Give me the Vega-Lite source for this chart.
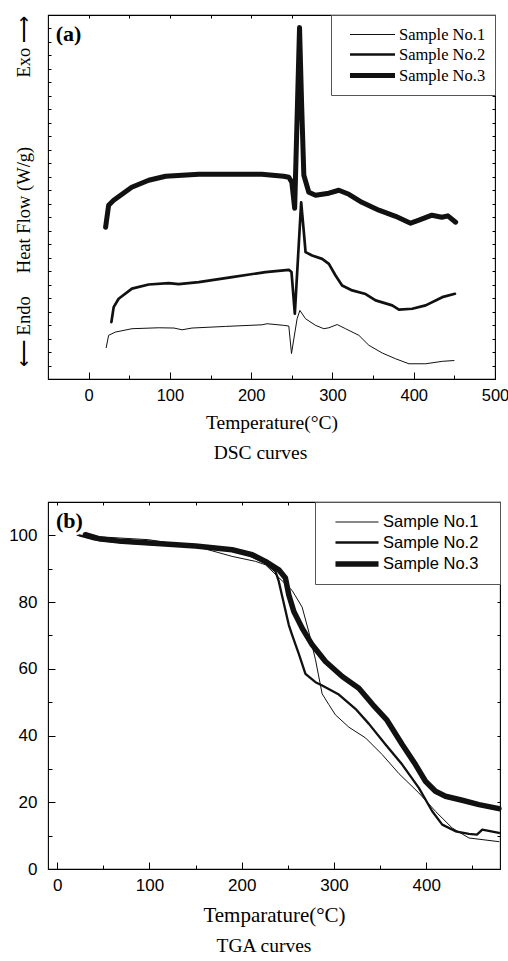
{
  "$schema": "https://vega.github.io/schema/vega-lite/v6.json",
  "padding": {"left": 8, "top": 13, "right": 0, "bottom": 0},
  "autosize": {"type": "pad"},
  "background": "white",
  "spacing": 36,
  "config": {
    "view": {"stroke": "#000", "strokeWidth": 1.1},
    "axis": {"domain": false, "grid": false, "tickColor": "#000", "tickWidth": 1, "labelColor": "#000", "titleColor": "#000", "labelFont": "Liberation Sans", "titleFont": "Liberation Serif", "titleFontWeight": "normal", "labelFlush": false, "labelOverlap": false},
    "title": {"font": "Liberation Serif", "fontWeight": "normal", "color": "#000"}
  },
  "resolve": {"scale": {"strokeWidth": "independent"}, "legend": {"strokeWidth": "independent"}},
  "datasets": {
    "dsc": [
      {"sample": "Sample No.1", "T": 21.6, "v": 2.33},
      {"sample": "Sample No.1", "T": 24.6, "v": 3.24},
      {"sample": "Sample No.1", "T": 32.9, "v": 3.48},
      {"sample": "Sample No.1", "T": 53.3, "v": 3.73},
      {"sample": "Sample No.1", "T": 86.2, "v": 3.8},
      {"sample": "Sample No.1", "T": 105, "v": 3.78},
      {"sample": "Sample No.1", "T": 114.9, "v": 3.65},
      {"sample": "Sample No.1", "T": 127.2, "v": 3.78},
      {"sample": "Sample No.1", "T": 168.3, "v": 3.9},
      {"sample": "Sample No.1", "T": 213.4, "v": 4.02},
      {"sample": "Sample No.1", "T": 219.6, "v": 4.1},
      {"sample": "Sample No.1", "T": 240, "v": 3.98},
      {"sample": "Sample No.1", "T": 246.3, "v": 3.93},
      {"sample": "Sample No.1", "T": 249.6, "v": 1.89},
      {"sample": "Sample No.1", "T": 256.5, "v": 4.47},
      {"sample": "Sample No.1", "T": 259.9, "v": 5.09},
      {"sample": "Sample No.1", "T": 266.9, "v": 4.47},
      {"sample": "Sample No.1", "T": 279.2, "v": 3.98},
      {"sample": "Sample No.1", "T": 289.4, "v": 3.73},
      {"sample": "Sample No.1", "T": 295.6, "v": 3.8},
      {"sample": "Sample No.1", "T": 305.8, "v": 4.04},
      {"sample": "Sample No.1", "T": 316.1, "v": 3.73},
      {"sample": "Sample No.1", "T": 332.5, "v": 3.24},
      {"sample": "Sample No.1", "T": 344.8, "v": 2.5},
      {"sample": "Sample No.1", "T": 361.2, "v": 1.93},
      {"sample": "Sample No.1", "T": 377.7, "v": 1.5},
      {"sample": "Sample No.1", "T": 394.1, "v": 1.13},
      {"sample": "Sample No.1", "T": 414.7, "v": 1.13},
      {"sample": "Sample No.1", "T": 435.1, "v": 1.31},
      {"sample": "Sample No.1", "T": 449.5, "v": 1.37},
      {"sample": "Sample No.2", "T": 28.0, "v": 4.22},
      {"sample": "Sample No.2", "T": 30.8, "v": 5.33},
      {"sample": "Sample No.2", "T": 36.9, "v": 5.95},
      {"sample": "Sample No.2", "T": 53.3, "v": 6.7},
      {"sample": "Sample No.2", "T": 73.9, "v": 7.01},
      {"sample": "Sample No.2", "T": 98.5, "v": 7.11},
      {"sample": "Sample No.2", "T": 110.8, "v": 7.04},
      {"sample": "Sample No.2", "T": 135.5, "v": 7.19},
      {"sample": "Sample No.2", "T": 176.5, "v": 7.56},
      {"sample": "Sample No.2", "T": 217.6, "v": 7.93},
      {"sample": "Sample No.2", "T": 246.3, "v": 8.1},
      {"sample": "Sample No.2", "T": 249.6, "v": 7.93},
      {"sample": "Sample No.2", "T": 253.7, "v": 4.84},
      {"sample": "Sample No.2", "T": 261.5, "v": 13.11},
      {"sample": "Sample No.2", "T": 264.8, "v": 10.9},
      {"sample": "Sample No.2", "T": 266.9, "v": 9.41},
      {"sample": "Sample No.2", "T": 275.0, "v": 9.16},
      {"sample": "Sample No.2", "T": 287.3, "v": 8.91},
      {"sample": "Sample No.2", "T": 295.6, "v": 8.54},
      {"sample": "Sample No.2", "T": 303.8, "v": 7.68},
      {"sample": "Sample No.2", "T": 311.9, "v": 6.94},
      {"sample": "Sample No.2", "T": 324.3, "v": 6.57},
      {"sample": "Sample No.2", "T": 340.8, "v": 6.3},
      {"sample": "Sample No.2", "T": 353.1, "v": 5.83},
      {"sample": "Sample No.2", "T": 373.5, "v": 5.46},
      {"sample": "Sample No.2", "T": 381.8, "v": 5.15},
      {"sample": "Sample No.2", "T": 398.2, "v": 5.21},
      {"sample": "Sample No.2", "T": 414.7, "v": 5.46},
      {"sample": "Sample No.2", "T": 435.1, "v": 6.07},
      {"sample": "Sample No.2", "T": 450.7, "v": 6.32},
      {"sample": "Sample No.3", "T": 20.9, "v": 11.26},
      {"sample": "Sample No.3", "T": 24.6, "v": 12.89},
      {"sample": "Sample No.3", "T": 30.8, "v": 13.26},
      {"sample": "Sample No.3", "T": 53, "v": 14.22},
      {"sample": "Sample No.3", "T": 73.9, "v": 14.74},
      {"sample": "Sample No.3", "T": 94.8, "v": 15.04},
      {"sample": "Sample No.3", "T": 135.5, "v": 15.19},
      {"sample": "Sample No.3", "T": 200.7, "v": 15.19},
      {"sample": "Sample No.3", "T": 213, "v": 15.19},
      {"sample": "Sample No.3", "T": 240, "v": 15.04},
      {"sample": "Sample No.3", "T": 246.3, "v": 14.96},
      {"sample": "Sample No.3", "T": 250, "v": 14.59},
      {"sample": "Sample No.3", "T": 253.5, "v": 12.67},
      {"sample": "Sample No.3", "T": 259.5, "v": 26.07},
      {"sample": "Sample No.3", "T": 262, "v": 20.5},
      {"sample": "Sample No.3", "T": 264.8, "v": 15.11},
      {"sample": "Sample No.3", "T": 270.9, "v": 13.85},
      {"sample": "Sample No.3", "T": 279.2, "v": 13.63},
      {"sample": "Sample No.3", "T": 295.6, "v": 13.78},
      {"sample": "Sample No.3", "T": 307.9, "v": 14.0},
      {"sample": "Sample No.3", "T": 320.2, "v": 13.7},
      {"sample": "Sample No.3", "T": 336.2, "v": 13.11},
      {"sample": "Sample No.3", "T": 357.1, "v": 12.52},
      {"sample": "Sample No.3", "T": 377.7, "v": 12.07},
      {"sample": "Sample No.3", "T": 396.2, "v": 11.56},
      {"sample": "Sample No.3", "T": 406.4, "v": 11.78},
      {"sample": "Sample No.3", "T": 422.4, "v": 12.15},
      {"sample": "Sample No.3", "T": 434.7, "v": 12.0},
      {"sample": "Sample No.3", "T": 442, "v": 12.1},
      {"sample": "Sample No.3", "T": 451.6, "v": 11.63}
    ],
    "tga": [
      {"sample": "Sample No.1", "T": 21.5, "W": 100},
      {"sample": "Sample No.1", "T": 50, "W": 99.5},
      {"sample": "Sample No.1", "T": 99, "W": 98.7},
      {"sample": "Sample No.1", "T": 157, "W": 96.2},
      {"sample": "Sample No.1", "T": 189.6, "W": 93.7},
      {"sample": "Sample No.1", "T": 215, "W": 92.2},
      {"sample": "Sample No.1", "T": 225.7, "W": 91.2},
      {"sample": "Sample No.1", "T": 243.8, "W": 86.4},
      {"sample": "Sample No.1", "T": 254.6, "W": 83.5},
      {"sample": "Sample No.1", "T": 265.5, "W": 78.5},
      {"sample": "Sample No.1", "T": 272.8, "W": 71},
      {"sample": "Sample No.1", "T": 280, "W": 62.7},
      {"sample": "Sample No.1", "T": 287.2, "W": 52.5},
      {"sample": "Sample No.1", "T": 294.4, "W": 49.3},
      {"sample": "Sample No.1", "T": 301.6, "W": 46.2},
      {"sample": "Sample No.1", "T": 316.2, "W": 42.5},
      {"sample": "Sample No.1", "T": 334.2, "W": 39.3},
      {"sample": "Sample No.1", "T": 352.3, "W": 34.3},
      {"sample": "Sample No.1", "T": 370.4, "W": 28.6},
      {"sample": "Sample No.1", "T": 392, "W": 22.8},
      {"sample": "Sample No.1", "T": 410, "W": 17.3},
      {"sample": "Sample No.1", "T": 428.1, "W": 12.3},
      {"sample": "Sample No.1", "T": 446.3, "W": 9.3},
      {"sample": "Sample No.1", "T": 478.8, "W": 8.2},
      {"sample": "Sample No.2", "T": 24, "W": 100},
      {"sample": "Sample No.2", "T": 40, "W": 98.8},
      {"sample": "Sample No.2", "T": 70, "W": 97.9},
      {"sample": "Sample No.2", "T": 100, "W": 97.4},
      {"sample": "Sample No.2", "T": 150, "W": 96.7},
      {"sample": "Sample No.2", "T": 189.6, "W": 96.0},
      {"sample": "Sample No.2", "T": 210, "W": 93.8},
      {"sample": "Sample No.2", "T": 225.7, "W": 91.7},
      {"sample": "Sample No.2", "T": 236.6, "W": 89.2},
      {"sample": "Sample No.2", "T": 240.2, "W": 86.2},
      {"sample": "Sample No.2", "T": 243.8, "W": 81.8},
      {"sample": "Sample No.2", "T": 251, "W": 73.2},
      {"sample": "Sample No.2", "T": 254.6, "W": 70.2},
      {"sample": "Sample No.2", "T": 261.9, "W": 64.5},
      {"sample": "Sample No.2", "T": 269.1, "W": 58.5},
      {"sample": "Sample No.2", "T": 280, "W": 56},
      {"sample": "Sample No.2", "T": 287.2, "W": 55},
      {"sample": "Sample No.2", "T": 305.3, "W": 52.3},
      {"sample": "Sample No.2", "T": 323.3, "W": 48},
      {"sample": "Sample No.2", "T": 337.9, "W": 43.5},
      {"sample": "Sample No.2", "T": 355.9, "W": 37.3},
      {"sample": "Sample No.2", "T": 374, "W": 31.3},
      {"sample": "Sample No.2", "T": 392, "W": 24.3},
      {"sample": "Sample No.2", "T": 406.5, "W": 17.3},
      {"sample": "Sample No.2", "T": 417.4, "W": 13.3},
      {"sample": "Sample No.2", "T": 431.8, "W": 11.3},
      {"sample": "Sample No.2", "T": 446.3, "W": 10.5},
      {"sample": "Sample No.2", "T": 455, "W": 10.3},
      {"sample": "Sample No.2", "T": 460.8, "W": 11.8},
      {"sample": "Sample No.2", "T": 478.8, "W": 10.8},
      {"sample": "Sample No.3", "T": 30.5, "W": 100.2},
      {"sample": "Sample No.3", "T": 45, "W": 99},
      {"sample": "Sample No.3", "T": 70, "W": 98.2},
      {"sample": "Sample No.3", "T": 100, "W": 97.7},
      {"sample": "Sample No.3", "T": 150, "W": 96.8},
      {"sample": "Sample No.3", "T": 189.6, "W": 95.7},
      {"sample": "Sample No.3", "T": 211.3, "W": 94.2},
      {"sample": "Sample No.3", "T": 225.7, "W": 92.2},
      {"sample": "Sample No.3", "T": 240.2, "W": 89.7},
      {"sample": "Sample No.3", "T": 247.4, "W": 87.2},
      {"sample": "Sample No.3", "T": 251, "W": 82.2},
      {"sample": "Sample No.3", "T": 256.5, "W": 77.2},
      {"sample": "Sample No.3", "T": 265.5, "W": 72.2},
      {"sample": "Sample No.3", "T": 276.4, "W": 67.2},
      {"sample": "Sample No.3", "T": 290.8, "W": 62.2},
      {"sample": "Sample No.3", "T": 309, "W": 57.7},
      {"sample": "Sample No.3", "T": 327, "W": 54.2},
      {"sample": "Sample No.3", "T": 342, "W": 49.3},
      {"sample": "Sample No.3", "T": 357, "W": 44.8},
      {"sample": "Sample No.3", "T": 374, "W": 37.3},
      {"sample": "Sample No.3", "T": 388.4, "W": 31.3},
      {"sample": "Sample No.3", "T": 399.2, "W": 26.3},
      {"sample": "Sample No.3", "T": 410, "W": 23.3},
      {"sample": "Sample No.3", "T": 420.9, "W": 21.8},
      {"sample": "Sample No.3", "T": 439, "W": 20.6},
      {"sample": "Sample No.3", "T": 457.2, "W": 19.3},
      {"sample": "Sample No.3", "T": 478.8, "W": 18.1}
    ]
  },
  "vconcat": [
    {
      "width": 447,
      "height": 364,
      "title": {"text": "DSC curves", "orient": "bottom", "fontSize": 19.5, "offset": 12, "anchor": "middle", "frame": "group", "dx": -11},
      "resolve": {"axis": {"x": "independent", "y": "independent"}},
      "layer": [
        {
          "data": {"name": "dsc"},
          "mark": {"type": "line", "color": "#111", "strokeCap": "round", "strokeJoin": "round"},
          "encoding": {
            "x": {"field": "T", "type": "quantitative", "scale": {"domain": [-50, 500], "nice": false, "zero": false},
              "axis": {"orient": "bottom", "values": [0, 100, 200, 300, 400, 500], "tickSize": -7, "labelPadding": 15, "labelFontSize": 16.5, "title": "Temperature(°C)", "titleFontSize": 19.5, "titlePadding": 10}},
            "y": {"field": "v", "type": "quantitative", "scale": {"domain": [0, 27], "nice": false, "zero": false},
              "axis": {"orient": "left", "values": [1,2,3,4,5,6,7,8,9,10,11,12,13,14,15,16,17,18,19,20,21,22,23,24,25,26], "tickSize": -3, "labels": false, "title": "\u27f5\u00a0Endo\u00a0\u00a0\u00a0\u00a0\u00a0Heat Flow (W/g)\u00a0\u00a0\u00a0\u00a0\u00a0\u00a0\u00a0\u00a0\u00a0\u00a0\u00a0\u00a0\u00a0\u00a0\u00a0Exo\u00a0\u27f6", "titleFontSize": 18.5, "titlePadding": 14, "titleY": 176}},
            "strokeWidth": {"field": "sample", "type": "nominal",
              "scale": {"type": "ordinal", "domain": ["Sample No.1", "Sample No.2", "Sample No.3"], "range": [1, 2.7, 5]},
              "legend": {"orient": "top-right", "offset": 0, "title": null, "strokeColor": "#555", "fillColor": "#fff", "padding": 9,
                "symbolType": "M-2.25,0H2.25", "symbolSize": 400, "symbolStrokeColor": "#111", "symbolOffset": 20, "labelOffset": 14,
                "labelFont": "Liberation Serif", "labelFontSize": 16.5, "labelColor": "#000", "rowPadding": 0}}
          }
        },
        {
          "data": {"values": [{}]},
          "mark": {"type": "text", "text": "(a)", "font": "Liberation Serif", "fontSize": 22, "fontWeight": "bold", "align": "left", "baseline": "middle", "color": "#000"},
          "encoding": {
            "x": {"datum": -40.5, "type": "quantitative", "scale": {"domain": [-50, 500], "nice": false, "zero": false},
              "axis": {"orient": "bottom", "values": [50, 150, 250, 350, 450], "tickSize": -4, "labels": false, "title": null}},
            "y": {"datum": 25.6, "type": "quantitative", "scale": {"domain": [0, 27], "nice": false, "zero": false},
              "axis": {"orient": "right", "values": [1,2,3,4,5,6,7,8,9,10,11,12,13,14,15,16,17,18,19,20,21,22,23,24,25,26], "tickSize": -3, "labels": false, "title": null}}
          }
        },
        {
          "data": {"values": [{}]},
          "mark": {"type": "text", "text": ""},
          "encoding": {
            "x": {"datum": 0, "type": "quantitative", "scale": {"domain": [-50, 500], "nice": false, "zero": false},
              "axis": {"orient": "top", "values": [0, 50, 100, 150, 200, 250, 300, 350, 400, 450], "tickSize": -3, "labels": false, "title": null}},
            "y": {"datum": 0, "type": "quantitative", "scale": {"domain": [0, 27], "nice": false, "zero": false}, "axis": null}
          }
        }
      ]
    },
    {
      "width": 452,
      "height": 367,
      "title": {"text": "TGA curves", "orient": "bottom", "fontSize": 19.5, "offset": 12, "anchor": "middle", "frame": "group", "dx": -10},
      "resolve": {"axis": {"x": "independent", "y": "independent"}},
      "layer": [
        {
          "data": {"name": "tga"},
          "mark": {"type": "line", "color": "#111", "strokeCap": "round", "strokeJoin": "round"},
          "encoding": {
            "x": {"field": "T", "type": "quantitative", "scale": {"domain": [-10, 480], "nice": false, "zero": false},
              "axis": {"orient": "bottom", "values": [0, 100, 200, 300, 400], "tickSize": -7, "labelPadding": 15, "labelFontSize": 17, "title": "Temparature(°C)", "titleFontSize": 21, "titlePadding": 11}},
            "y": {"field": "W", "type": "quantitative", "scale": {"domain": [0, 110], "nice": false, "zero": false},
              "axis": {"orient": "left", "values": [0, 20, 40, 60, 80, 100], "tickSize": -7, "labelPadding": 18, "labelFontSize": 17, "title": null}},
            "strokeWidth": {"field": "sample", "type": "nominal",
              "scale": {"type": "ordinal", "domain": ["Sample No.1", "Sample No.2", "Sample No.3"], "range": [1, 2.3, 5.5]},
              "legend": {"orient": "top-right", "offset": 0, "title": null, "strokeColor": "#555", "fillColor": "#fff", "padding": 9,
                "symbolType": "M-2.1,0H2.1", "symbolSize": 420, "symbolStrokeColor": "#111", "symbolOffset": 20, "labelOffset": 13,
                "labelFont": "Liberation Sans", "labelFontSize": 16.5, "labelColor": "#000", "rowPadding": 0,
                "labelExpr": "datum.label + '\u00a0\u00a0\u2009\u200b'"}}
          }
        },
        {
          "data": {"values": [{}]},
          "mark": {"type": "text", "text": "(b)", "font": "Liberation Serif", "fontSize": 22, "fontWeight": "bold", "align": "left", "baseline": "middle", "color": "#000"},
          "encoding": {
            "x": {"datum": -1.3, "type": "quantitative", "scale": {"domain": [-10, 480], "nice": false, "zero": false},
              "axis": {"orient": "bottom", "values": [50, 150, 250, 350, 450], "tickSize": -4, "labels": false, "title": null}},
            "y": {"datum": 104.2, "type": "quantitative", "scale": {"domain": [0, 110], "nice": false, "zero": false},
              "axis": {"orient": "left", "values": [10, 30, 50, 70, 90], "tickSize": -4, "labels": false, "title": null}}
          }
        },
        {
          "data": {"values": [{}]},
          "mark": {"type": "text", "text": ""},
          "encoding": {
            "x": {"datum": 0, "type": "quantitative", "scale": {"domain": [-10, 480], "nice": false, "zero": false},
              "axis": {"orient": "top", "values": [0, 50, 100, 150, 200, 250, 300, 350, 400, 450], "tickSize": -3, "labels": false, "title": null}},
            "y": {"datum": 0, "type": "quantitative", "scale": {"domain": [0, 110], "nice": false, "zero": false},
              "axis": {"orient": "right", "values": [10, 20, 30, 40, 50, 60, 70, 80, 90, 100], "tickSize": -3, "labels": false, "title": null}}
          }
        }
      ]
    }
  ]
}
